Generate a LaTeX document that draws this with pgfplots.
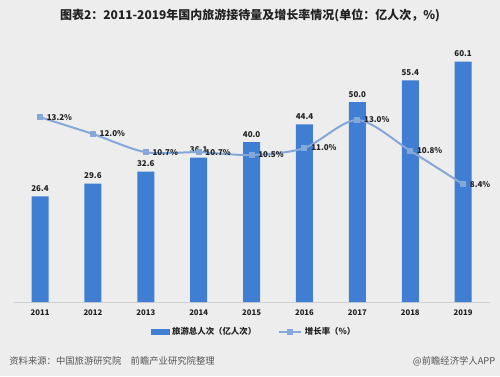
\documentclass[border=0pt]{standalone}
\usepackage{pgfplots}
\pgfplotsset{compat=1.18}
\usepackage{fontspec}
\setmainfont{Noto Sans CJK SC}
\definecolor{bg}{HTML}{EDEDED}
\definecolor{barblue}{HTML}{3F7ED2}
\definecolor{lineblue}{HTML}{85A8D9}
\definecolor{txt}{HTML}{222222}
\definecolor{foot}{HTML}{555555}
\pgfplotsset{/pgf/number format/assume math mode=true}
\begin{document}
\begin{tikzpicture}
\fill[bg] (0,0) rectangle (375pt,282pt);
\node[font=\bfseries\fontsize{9}{10}\selectfont, text=txt] at (187.5pt,270.5pt) {图表2：2011-2019年国内旅游接待量及增长率情况(单位：亿人次，\%)};
\begin{axis}[
  at={(10.2pt,55.5pt)}, anchor=south west,
  scale only axis, width=357pt, height=210pt,
  xmin=-0.5, xmax=8.5, ymin=0, ymax=70,
  enlargelimits=false,
  axis x line=bottom, axis y line=none,
  x axis line style={draw=black!18, -},
  xtick=data, xticklabels={2011,2012,2013,2014,2015,2016,2017,2018,2019},
  major tick length=0pt,
  xticklabel style={font=\bfseries\fontsize{5.8}{7}\selectfont, text=txt, yshift=-2pt},
  ytick=\empty,
  clip=false,
]
\addplot[ybar, bar width=12.75pt, fill=barblue, draw=none,
  nodes near coords,
  nodes near coords style={font=\bfseries\fontsize{6}{7}\selectfont, text=txt,
    /pgf/number format/.cd, fixed, fixed zerofill, precision=1}]
  coordinates {(0,26.4) (1,29.6) (2,32.6) (3,36.1) (4,40.0) (5,44.4) (6,50.0) (7,55.4) (8,60.1)};
\end{axis}
\begin{axis}[
  at={(10.2pt,55.5pt)}, anchor=south west,
  scale only axis, width=357pt, height=210pt,
  xmin=-0.5, xmax=8.5, ymin=0, ymax=20,
  enlargelimits=false,
  hide axis, clip=false,
  legend columns=2,
  legend style={at={(0.506,-0.107)}, anchor=center, draw=none, fill=none,
    font=\bfseries\fontsize{6.3}{7}\selectfont, text=txt,
    /tikz/every even column/.append style={column sep=14pt}},
]
\addlegendimage{legend image code/.code={\fill[barblue] (0pt,-2pt) rectangle (13.5pt,2pt);}}
\addlegendentry{旅游总人次（亿人次）}
\addplot[smooth, color=lineblue, line width=1.5pt, mark=square*, mark size=1.5pt,
  mark options={fill=lineblue, draw=lineblue},
  nodes near coords={\pgfmathprintnumber[fixed, fixed zerofill, precision=1]{\pgfplotspointmeta}\%},
  nodes near coords style={anchor=west, xshift=1pt, yshift=0pt, font=\bfseries\fontsize{6}{7}\selectfont, text=txt}]
  coordinates {(0,13.2) (1,12.0) (2,10.7) (3,10.7) (4,10.5) (5,11.0) (6,13.0) (7,10.8) (8,8.4)};
\addlegendentry{增长率（\%）}
\end{axis}
\node[anchor=west, font=\fontsize{7}{8}\selectfont, text=foot] at (3.5pt,11.2pt) {资料来源：中国旅游研究院\quad 前瞻产业研究院整理};
\node[anchor=east, font=\fontsize{7}{8}\selectfont, text=foot] at (375pt,11.2pt) {@前瞻经济学人APP};
\end{tikzpicture}
\end{document}
